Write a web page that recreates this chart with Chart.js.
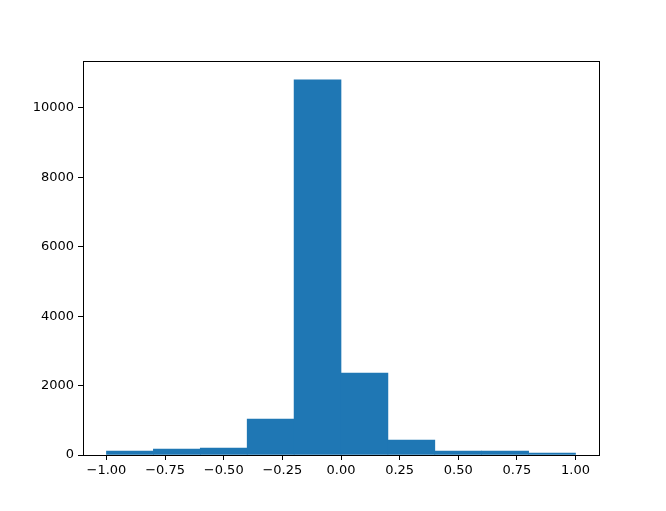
<!DOCTYPE html>
<html>
<head>
<meta charset="utf-8">
<script src="https://cdn.jsdelivr.net/npm/chart.js@4/dist/chart.umd.min.js"></script>
<style>
html,body{margin:0;padding:0;background:#fff;}
canvas{display:block;}
</style>
</head>
<body>
<canvas id="c" width="666" height="511"></canvas>
<script>
const binEdges = [-1.0, -0.8, -0.6, -0.4, -0.2, 0.0, 0.2, 0.4, 0.6, 0.8, 1.0];
const counts = [115, 173, 202, 1037, 10810, 2363, 432, 115, 115, 58];
const xTicks = [-1.0, -0.75, -0.5, -0.25, 0.0, 0.25, 0.5, 0.75, 1.0];
const yTicks = [0, 2000, 4000, 6000, 8000, 10000];

const points = counts.map((c, i) => ({ x: (binEdges[i] + binEdges[i + 1]) / 2, y: c }));
const font = { family: 'DejaVu Sans', size: 13 };

const boxPlugin = {
  id: 'box',
  afterDraw(chart) {
    const a = chart.chartArea, ctx = chart.ctx;
    ctx.save();
    ctx.strokeStyle = '#000';
    ctx.lineWidth = 1;
    ctx.strokeRect(Math.round(a.left) + 0.5, Math.round(a.top) + 0.5,
      Math.round(a.right - a.left), Math.round(a.bottom - a.top));
    ctx.restore();
  }
};

new Chart(document.getElementById('c'), {
  type: 'bar',
  data: {
    datasets: [{
      data: points,
      backgroundColor: '#1f77b4',
      borderWidth: 0,
      barPercentage: 1.0,
      categoryPercentage: 1.0
    }]
  },
  options: {
    responsive: false,
    animation: false,
    devicePixelRatio: 1,
    layout: { padding: { left: 0, top: 61, right: 67, bottom: 0 } },
    plugins: { legend: { display: false }, tooltip: { enabled: false } },
    scales: {
      x: {
        type: 'linear',
        min: -1.1, max: 1.1,
        offset: false,
        afterFit(s) { s.height = 56; },
        afterBuildTicks(s) { s.ticks = xTicks.map(v => ({ value: v })); },
        grid: { offset: false, drawOnChartArea: false, drawTicks: true, tickLength: 5, color: '#000' },
        border: { display: true, color: '#000' },
        ticks: {
          font, color: '#000', padding: 3, maxRotation: 0, autoSkip: false,
          callback: v => v.toFixed(2).replace('-', '\u2212')
        }
      },
      y: {
        min: 0, max: 11354,
        afterFit(s) { s.width = 83; },
        afterBuildTicks(s) { s.ticks = yTicks.map(v => ({ value: v })); },
        grid: { offset: false, drawOnChartArea: false, drawTicks: true, tickLength: 5, color: '#000' },
        border: { display: true, color: '#000' },
        ticks: { font, color: '#000', padding: 4, callback: v => String(v) }
      }
    }
  },
  plugins: [boxPlugin]
});
</script>
</body>
</html>
